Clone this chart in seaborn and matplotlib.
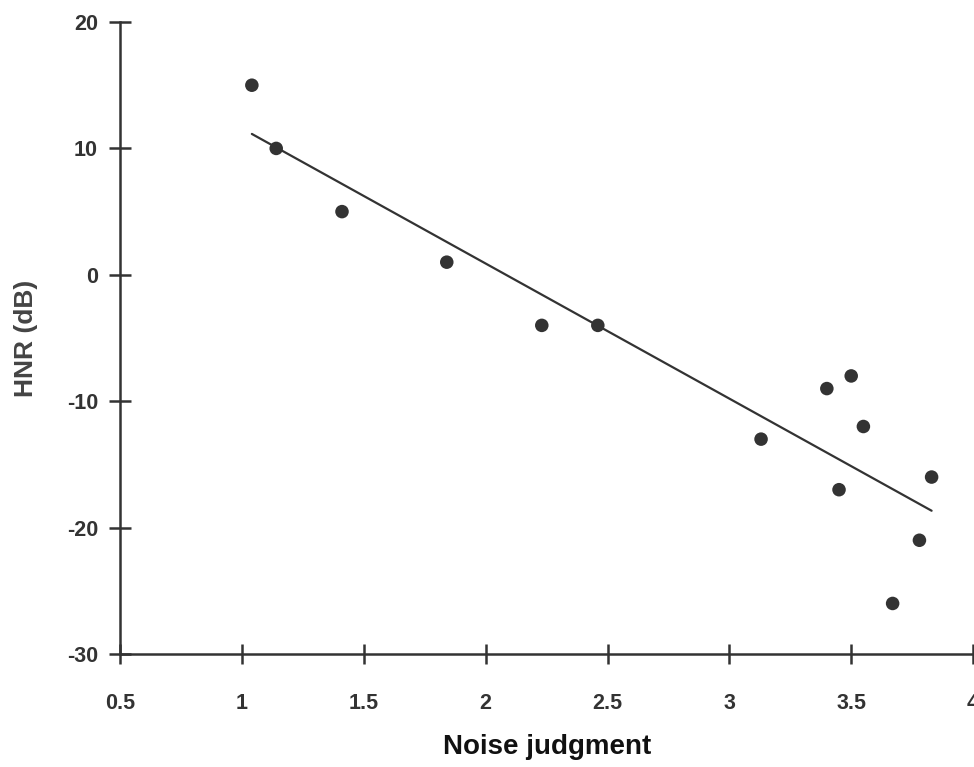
import matplotlib
matplotlib.use("Agg")
import matplotlib.pyplot as plt
import seaborn as sns
import pandas as pd

# Noise judgment (mean rating) vs. harmonics-to-noise ratio
noise_judgment = [1.04, 1.14, 1.41, 1.84, 2.23, 2.46, 3.13, 3.40, 3.50, 3.55, 3.45, 3.83, 3.78, 3.67]
hnr_db = [15, 10, 5, 1, -4, -4, -13, -9, -8, -12, -17, -16, -21, -26]

x_ticks = [0.5, 1, 1.5, 2, 2.5, 3, 3.5, 4]
x_tick_labels = ["0.5", "1", "1.5", "2", "2.5", "3", "3.5", "4"]
y_ticks = [-30, -20, -10, 0, 10, 20]
y_tick_labels = ["-30", "-20", "-10", "0", "10", "20"]

df = pd.DataFrame({"Noise judgment": noise_judgment, "HNR (dB)": hnr_db})

sns.set_style("white")
plt.rcParams["font.family"] = ["Liberation Sans", "DejaVu Sans"]

ink = "#333333"
fig = plt.figure(figsize=(9.74, 7.67), dpi=100)
ax = fig.add_axes([0.1235, 0.1473, 0.8755, 0.824])

sns.regplot(
    data=df, x="Noise judgment", y="HNR (dB)", ax=ax, ci=None, truncate=True,
    scatter_kws=dict(s=95, color=ink, edgecolors="none", alpha=1, zorder=3),
    line_kws=dict(color=ink, lw=1.6),
)

ax.set_xlim(0.5, 4)
ax.set_ylim(-30, 20)
ax.set_xticks(x_ticks)
ax.set_xticklabels(x_tick_labels)
ax.set_yticks(y_ticks)
ax.set_yticklabels(y_tick_labels)

for side in ("top", "right"):
    ax.spines[side].set_visible(False)
for side in ("left", "bottom"):
    ax.spines[side].set_color(ink)
    ax.spines[side].set_linewidth(1.8)
    ax.spines[side].set_clip_on(False)

ax.tick_params(axis="x", bottom=True, direction="inout", length=14.5, width=1.8,
               color=ink, pad=21, labelsize=15.5, labelcolor=ink)
ax.tick_params(axis="y", left=True, direction="inout", length=16, width=1.8,
               color=ink, pad=8, labelsize=15.5, labelcolor=ink)
for lab in ax.get_xticklabels() + ax.get_yticklabels():
    lab.set_fontweight("bold")
    lab.set_clip_on(False)

ax.set_xlabel("Noise judgment", fontsize=20, fontweight="bold", color="#111111", labelpad=14)
ax.set_ylabel("HNR (dB)", fontsize=19, fontweight="bold", color="#444444", labelpad=21)

fig.savefig("out.png", dpi=100)
